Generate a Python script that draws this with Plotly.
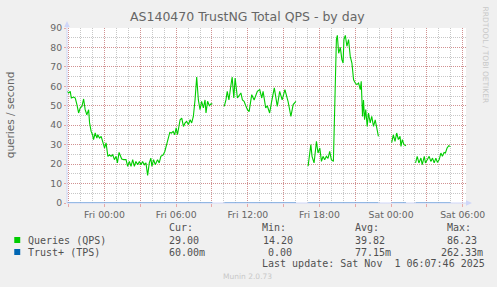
import plotly.graph_objects as go

# ---------------- data ----------------
# hours relative to Fri 00:00 (None = gap in data)
hours = [
    -3.14, -3.0, -2.87, -2.78, -2.58, -2.45, -2.31, -2.17, -2.03, -1.89, -1.75, -1.62, -1.48, -1.33, -1.25,
    -1.12, -1.0, -0.92, -0.78, -0.64, -0.56, -0.42, -0.28, -0.14, 0.0, 0.13, 0.28, 0.42, 0.55, 0.69, 0.83,
    0.97, 1.08, 1.22, 1.36, 1.44, 1.6, 1.8, 1.94, 2.08, 2.22, 2.36, 2.5, 2.63, 2.78, 2.92, 3.05, 3.19, 3.33,
    3.47, 3.61, 3.75, 3.88, 3.97, 4.11, 4.25, 4.44, 4.58, 4.72, 4.92, 5.05, 5.22, 5.33, 5.47, 5.61, 5.75,
    5.88, 6.0, 6.11, 6.33, 6.47, 6.61, 6.75, 6.88, 7.03, 7.17, 7.3, 7.44, 7.58, 7.72, 7.86, 8.0, 8.13, 8.28,
    8.42, 8.5, 8.63, 8.78, 8.92, 9.03, None,
    10.03, 10.17, 10.28, 10.42, 10.55, 10.69, 10.83, 10.94, 11.13, 11.27, 11.42, 11.55, 11.69, 11.83, 11.97,
    12.11, 12.33, 12.53, 12.8, 13.0, 13.17, 13.28, 13.5, 13.63, 13.83, 14.0, 14.22, 14.47, 14.67, 14.88,
    15.11, 15.38, 15.61, 15.8, 16.03, None,
    17.05, 17.28, 17.38, 17.55, 17.75, 17.88, 18.03, 18.17, 18.3, 18.44, 18.58, 18.72, 18.86, 19.0, 19.17,
    19.42, 19.5, 19.61, 19.75, 19.88, 19.98, 20.05, 20.17, 20.3, 20.44, 20.58, 20.72, 20.86, 21.0, 21.13,
    21.28, 21.42, 21.5, 21.61, 21.69, 21.78, 21.88, 22.0, 22.11, 22.25, 22.38, 22.53, 22.67, 22.8, 22.94, None,
    24.05, 24.19, 24.33, 24.47, 24.61, 24.75, 24.83, 24.94, 25.08, 25.25, None,
    26.05, 26.19, 26.33, 26.5, 26.61, 26.78, 26.88, 27.05, 27.19, 27.33, 27.47, 27.61, 27.75, 27.88, 28.03,
    28.17, 28.3, 28.44, 28.55, 28.69, 28.83, 28.97,
]
qps = [
    57.4, 56.6, 57.4, 54.0, 54.5, 54.0, 50.6, 46.3, 48.9, 49.7, 53.5, 48.0, 45.4, 48.0, 41.2,
    36.8, 35.1, 32.6, 36.0, 33.4, 35.1, 33.4, 34.3, 31.7, 28.3, 30.9, 24.0, 24.8, 24.0, 24.8, 22.3,
    24.0, 20.6, 26.0, 23.1, 22.6, 22.3, 22.3, 18.8, 21.4, 18.8, 22.3, 18.8, 21.4, 19.7, 21.4, 19.7, 21.4, 19.7,
    20.6, 14.2, 20.6, 23.1, 18.8, 22.3, 19.7, 22.3, 20.6, 24.0, 24.8, 26.5, 30.0, 32.6, 36.3, 36.0, 36.8,
    35.1, 38.6, 35.1, 42.8, 43.7, 39.4, 41.2, 42.0, 40.3, 42.8, 41.2, 44.5, 53.0, 64.8, 53.0, 48.0, 52.3, 48.9,
    53.0, 46.3, 52.3, 50.0, 51.0, 51.0, None,
    49.7, 53.0, 57.4, 53.0, 59.0, 64.8, 54.0, 64.3, 54.0, 55.0, 56.6, 53.0, 52.3, 50.0, 48.0,
    47.0, 55.7, 53.0, 57.4, 58.3, 54.0, 57.4, 48.9, 50.0, 46.3, 52.3, 59.2, 49.7, 57.4, 53.0,
    58.3, 52.0, 44.5, 50.6, 52.3, None,
    19.0, 30.0, 24.0, 20.6, 31.7, 25.7, 28.3, 21.4, 24.0, 22.3, 24.0, 23.0, 26.5, 22.3, 21.4,
    84.0, 86.2, 77.0, 80.0, 73.7, 72.0, 84.0, 86.2, 80.6, 84.0, 75.4, 72.0, 63.4, 61.7, 60.9,
    61.7, 58.3, 62.6, 44.5, 53.0, 42.8, 48.0, 39.4, 46.3, 41.2, 44.5, 39.4, 42.8, 37.7, 34.3, None,
    31.0, 35.0, 31.7, 36.0, 32.6, 34.3, 29.1, 32.6, 30.0, 29.5, None,
    20.6, 24.0, 20.6, 23.1, 19.7, 24.0, 20.6, 22.3, 24.0, 21.4, 23.1, 20.6, 23.1, 20.9, 22.3,
    25.7, 24.0, 26.0, 25.7, 28.3, 29.5, 29.0,
]
trust_hours = [-3.14, 9.03, None, 10.03, 16.03, None, 17.05, 20.3, 20.36, 20.42, 22.94, None,
               24.05, 25.25, None, 26.05, 28.97]
trust_tps = [0.06, 0.08, None, 0.07, 0.09, None, 0.05, 0.07, 0.26, 0.07, 0.08, None,
             0.06, 0.07, None, 0.07, 0.06]

tick_hours = [-3, 0, 3, 6, 9, 12, 15, 18, 21, 24, 27, 30]
tick_text = ["", "Fri 00:00", "", "Fri 06:00", "", "Fri 12:00", "", "Fri 18:00", "",
             "Sat 00:00", "", "Sat 06:00"]

title = "AS140470 TrustNG Total QPS - by day"
ylabel = "queries / second"
series_names = ["Queries (QPS)", "Trust+ (TPS)"]
series_colors = ["#00cc00", "#0066b3"]
col_heads = ["Cur:", "Min:", "Avg:", "Max:"]
stats = [["29.00", "14.20", "39.82", "86.23"],
         ["60.00m", "0.00", "77.15m", "262.33m"]]
last_update = "Last update: Sat Nov\u00a0\u00a01 06:07:46 2025"
footer = "Munin 2.0.73"
side_text = "RRDTOOL / TOBI OETIKER"

# ---------------- layout geometry (pixels) ----------------
W, H = 497, 287
PL, PR, PT, PB = 67, 468, 28, 203


def px(x):
    return (x - PL) / (PR - PL)


def py(y):
    return (PB - y) / (PB - PT)


def hx(px_):
    return (px_ - 104.7) / 12.0


FONT = "DejaVu Sans"
MONO = "DejaVu Sans Mono"
TXT = "#666666"
MGRID = "rgba(222,80,80,0.45)"
GRID = "rgba(143,143,143,0.5)"
AXIS = "#CFD6F8"

fig = go.Figure()
fig.add_trace(go.Scatter(x=trust_hours, y=trust_tps, mode="lines",
                         line=dict(color=series_colors[1], width=1), connectgaps=False,
                         showlegend=False, hoverinfo="skip"))
fig.add_trace(go.Scatter(x=hours, y=qps, mode="lines",
                         line=dict(color=series_colors[0], width=1.1), connectgaps=False,
                         showlegend=False))

fig.update_layout(
    width=W, height=H, autosize=False,
    margin=dict(l=PL, r=W - PR, t=PT, b=H - PB, pad=0),
    paper_bgcolor="#f0f0f0", plot_bgcolor="#ffffff",
    showlegend=False,
    font=dict(family=FONT, color=TXT, size=9),
)
fig.update_xaxes(
    range=[hx(PL), hx(PR)], tickvals=tick_hours, ticktext=tick_text,
    showgrid=True, gridcolor=MGRID, griddash="1px,1px", gridwidth=1,
    ticks="outside", ticklen=3, tickcolor=MGRID,
    minor=dict(dtick=1, tick0=0, showgrid=True, gridcolor=GRID, griddash="1px,1px", ticks=""),
    zeroline=False, showline=False,
    tickfont=dict(family=FONT, size=9.3, color=TXT),
)
fig.update_yaxes(
    range=[0, 90], tickvals=list(range(0, 91, 10)),
    showgrid=True, gridcolor=MGRID, griddash="1px,1px", gridwidth=1,
    ticks="outside", ticklen=2, tickcolor=MGRID,
    minor=dict(dtick=5, tick0=0, showgrid=True, gridcolor=GRID, griddash="1px,1px", ticks=""),
    zeroline=False, showline=False,
    tickfont=dict(family=FONT, size=9.3, color=TXT),
)

shapes = []
# axes lines + arrows
shapes.append(dict(type="line", xref="paper", yref="paper", x0=px(67), x1=px(67), y0=py(203), y1=py(24),
                   line=dict(color=AXIS, width=1)))
shapes.append(dict(type="line", xref="paper", yref="paper", x0=px(67), x1=px(470), y0=py(203), y1=py(203),
                   line=dict(color=AXIS, width=1)))
shapes.append(dict(type="path", xref="paper", yref="paper",
                   path=f"M {px(64.2)},{py(27)} L {px(69.8)},{py(27)} L {px(67)},{py(21)} Z",
                   fillcolor=AXIS, line=dict(width=0)))
shapes.append(dict(type="path", xref="paper", yref="paper",
                   path=f"M {px(468)},{py(200.2)} L {px(468)},{py(205.8)} L {px(474)},{py(203)} Z",
                   fillcolor=AXIS, line=dict(width=0)))
# legend squares
for i, c in enumerate(series_colors):
    yc = 240 + 12 * i
    shapes.append(dict(type="rect", xref="paper", yref="paper",
                       x0=px(14), x1=px(20), y0=py(yc - 3), y1=py(yc + 3),
                       fillcolor=c, line=dict(width=0)))
fig.update_layout(shapes=shapes)

ann = []
ann.append(dict(text=title, x=px(248), y=py(17), xref="paper", yref="paper", showarrow=False,
                xanchor="center", yanchor="middle", font=dict(family=FONT, size=12.5, color=TXT)))
ann.append(dict(text=ylabel, x=px(10), y=py(115), xref="paper", yref="paper", showarrow=False,
                textangle=-90, xanchor="center", yanchor="middle", font=dict(family=FONT, size=10.5, color=TXT)))
ann.append(dict(text=side_text, x=px(488), y=py(5), xref="paper", yref="paper", showarrow=False,
                textangle=90, xanchor="center", yanchor="top", font=dict(family=FONT, size=7.5, color="#c8c8c8")))
ann.append(dict(text=footer, x=px(248), y=py(276), xref="paper", yref="paper", showarrow=False,
                xanchor="center", yanchor="middle", font=dict(family=FONT, size=7.5, color="#c8c8c8")))

LEG = "#505050"
col_x = [167, 261, 354, 447]
for t, x in zip(col_heads, col_x):
    ann.append(dict(text=t, x=px(x), y=py(227), xref="paper", yref="paper", showarrow=False,
                    xanchor="left", yanchor="middle", font=dict(family=MONO, size=10, color=LEG)))
val_x = [[167, 262, 354, 447], [167, 267, 354, 441]]
for i, name in enumerate(series_names):
    yc = 240 + 12 * i
    ann.append(dict(text=name, x=px(26), y=py(yc), xref="paper", yref="paper", showarrow=False,
                    xanchor="left", yanchor="middle", font=dict(family=MONO, size=10, color=LEG)))
    for v, x in zip(stats[i], val_x[i]):
        ann.append(dict(text=v, x=px(x), y=py(yc), xref="paper", yref="paper", showarrow=False,
                        xanchor="left", yanchor="middle", font=dict(family=MONO, size=10, color=LEG)))
ann.append(dict(text=last_update, x=px(261), y=py(263), xref="paper", yref="paper", showarrow=False,
                xanchor="left", yanchor="middle", font=dict(family=MONO, size=10, color=LEG)))
fig.update_layout(annotations=ann)

fig.write_html("out.html")
